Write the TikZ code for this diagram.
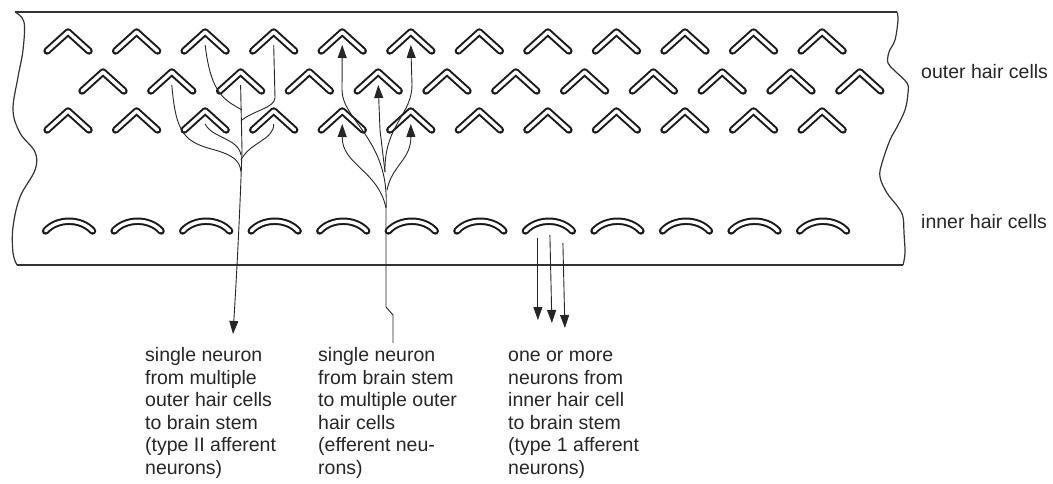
\documentclass[tikz,border=0pt]{standalone}
\usepackage{fontspec}
\setmainfont{Liberation Sans}
\usetikzlibrary{arrows.meta}

\begin{document}
\begin{tikzpicture}[x=1pt,y=-1pt,
	edge/.style={line width=1.2pt,draw=black!80},
	haircell/.style={draw=black!90,double=white,double distance=3.4pt,line width=2pt,line cap=round,line join=round},
	innercell/.style={haircell},
	fibre/.style={line width=0.9pt,draw=black!85},
	fibrearrow/.style={fibre,-{Triangle[length=13pt,width=9pt]}},
	caption/.style={anchor=base west,inner sep=0pt,align=left,text=black!85,font=\fontsize{19.5}{22.5}\selectfont}]

\useasboundingbox (0,0) rectangle (1053,483);

% Rand
	\draw[edge] (15,12) -- (897,12);
	\draw[edge] (17,265) -- (903,265);
	\draw[edge] plot[smooth,tension=0.6] coordinates {(15,12) (24,22) (23,50) (18,77) (13,110) (20,133) (35,152) (35,170) (20,197) (13,227) (13,253) (17,265)};
	\draw[edge] plot[smooth,tension=0.6] coordinates {(897,12) (898,20) (895,40) (889,52) (888,63) (895,71) (907,83) (908,93) (905,110) (897,127) (890,140) (882,163) (880,177) (887,193) (898,207) (903,217) (904,233) (905,253) (903,265)};

% Zellen
	\foreach \i in {1,...,12} {
		\pgfmathsetmacro\xa{68.55*\i-0.5}
		\pgfmathsetmacro\xb{103+68.8*(\i-1)}
		\coordinate (a\i) at (\xa,45);
		\coordinate (b\i) at (\xb,85);
		\coordinate (c\i) at (\xa,124);
		\coordinate (h\i) at (\xa+1,231);
	}

	\foreach \r in {a,b,c}
		\foreach \i in {1,...,12}
			\draw[haircell] (\r\i) ++(-21,6) -- ++(21,-19) -- ++(21,19);

	\foreach \i in {1,...,12} {
		\pgfmathsetmacro\xh{68.55*\i+0.5}
		\draw[innercell] (\xh-23.5,231) .. controls (\xh-12,218) and (\xh+12,218) .. (\xh+23.5,231);
	}

% Typ II afferent
	\coordinate (t2) at (233,334);
	\coordinate (aj1) at (242,110);
	\coordinate (aj2) at (242,120);
	\coordinate (aj3) at (241,155);
	\coordinate (aj4) at (241,160);
	\coordinate (aj5) at (241,172);
	\draw[fibrearrow] (b3) -- (242,150) .. controls (240,210) and (237,270) .. (t2);
	\draw[fibre] (a3) .. controls (211,95) and (225,100) .. (aj1);
	\draw[fibre] (a4) -- (275,98) .. controls (274,108) and (255,110) .. (aj2);
	\draw[fibre] (c3) .. controls (212,138) and (238,138) .. (aj3);
	\draw[fibre] (c4) .. controls (274,140) and (250,142) .. (aj4);
	\draw[fibre] (b2) .. controls (176,135) and (185,142) .. (215,150) .. controls (232,155) and (240,160) .. (aj5);

% efferent
	\coordinate (eff) at (393,343);
	\coordinate (ej1) at (386,208);
	\coordinate (ej2) at (387,190);
	\coordinate (ej3) at (385,172);
	\draw[fibre] (eff) -- (393,315) -- (386,307) -- (ej1);
	\draw[fibrearrow] (ej1) .. controls (378,170) and (342,165) .. (c5);
	\draw[fibrearrow] (ej2) .. controls (392,165) and (411,160) .. (c6);
	\draw[fibrearrow] (ej1) .. controls (390,140) and (342,120) .. (342,90) -- (a5);
	\draw[fibrearrow] (ej3) -- (380,130) -- (b5);
	\draw[fibrearrow] (ej3) .. controls (384,125) and (412,115) .. (412,85) -- (a6);

% Typ I afferent
	\draw[fibrearrow] (h8) ++(-11,7) -- ++(0,82);
	\draw[fibrearrow] (h8) ++(1,4) -- ++(2,88);
	\draw[fibrearrow] (h8) ++(14,12) -- ++(2,85);

% Beschriftung (base = letzte Zeile)
	\node[caption] (ohclbl) at (921,78) {outer hair cells};
	\node[caption] (ihclbl) at (921,228) {inner hair cells};
	\node[caption] (typeII) at (145,474) {single neuron\\from multiple\\outer hair cells\\to brain stem\\(type II afferent\\neurons)};
	\node[caption] (efferent) at (318,474) {single neuron\\from brain stem\\to multiple outer\\hair cells\\(efferent neu-\\rons)};
	\node[caption] (typeI) at (508,474) {one or more\\neurons from\\inner hair cell\\to brain stem\\(type 1 afferent\\neurons)};

\end{tikzpicture}
\end{document}
